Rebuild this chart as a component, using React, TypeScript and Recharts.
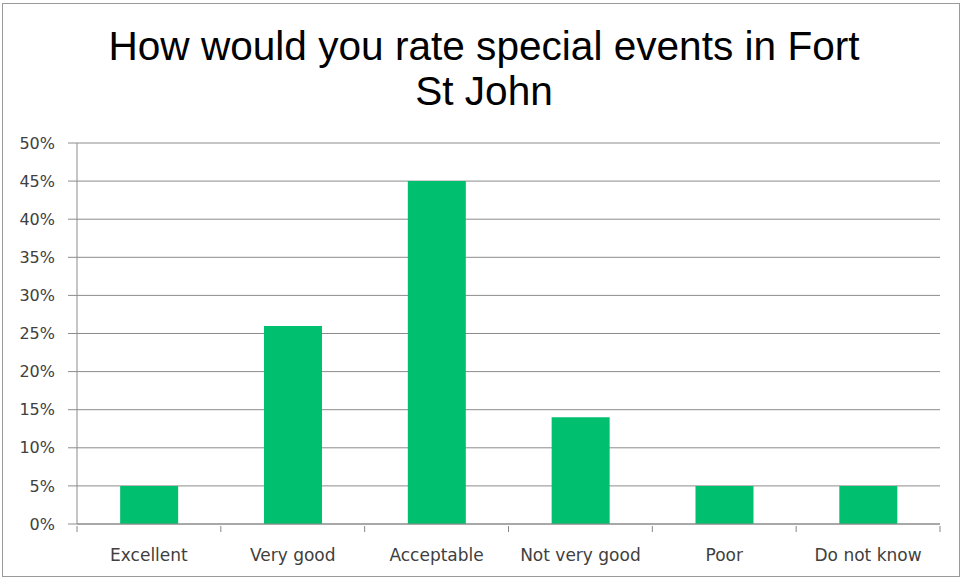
import { BarChart, Bar, XAxis, YAxis, CartesianGrid } from "recharts";

const categories = ["Excellent", "Very good", "Acceptable", "Not very good", "Poor", "Do not know"];
const shares = [5, 26, 45, 14, 5, 5];
const yTicks = [0, 5, 10, 15, 20, 25, 30, 35, 40, 45, 50];

const data = categories.map((name, i) => ({ name, value: shares[i] }));

const W = 963;
const H = 580;
const LEFT = 77;
const RIGHT = 23;
const STEP = (W - LEFT - RIGHT) / categories.length;

const CategoryTick = (props: any) => {
    const { x, y, payload, index } = props;
    return (
        <g>
            <line x1={x - STEP / 2} y1={y - 6} x2={x - STEP / 2} y2={y} stroke="#888" />
            {index === categories.length - 1 && (
                <line x1={x + STEP / 2} y1={y - 6} x2={x + STEP / 2} y2={y} stroke="#888" />
            )}
            <text x={x} y={y + 29} textAnchor="middle" fontSize={17} fill="#404040" fontFamily="'DejaVu Sans', sans-serif">
                {payload.value}
            </text>
        </g>
    );
};

export default function App() {
    return (
        <div style={{ position: "absolute", left: 0, top: 0, width: W, height: H, background: "#fff" }}>
            <div style={{
                position: "absolute", left: 2, top: 3, width: W - 5, height: H - 6,
                border: "1px solid #9a9a9a", boxSizing: "border-box"
            }} />
            <div style={{
                position: "absolute", left: 0, top: 24, width: 968, textAlign: "center",
                fontFamily: "'Liberation Sans', Arial, sans-serif", fontSize: 40.6, lineHeight: "45px", color: "#000"
            }}>
                How would you rate special events in Fort<br />St John
            </div>
            <BarChart
                width={W}
                height={H}
                data={data}
                margin={{ top: 143, right: RIGHT, bottom: 0, left: 0 }}
                barCategoryGap="30%"
                style={{ position: "absolute", left: 0, top: 0 }}
            >
                <CartesianGrid vertical={false} stroke="#8c8c8c" strokeDasharray="" />
                <XAxis
                    dataKey="name"
                    height={56}
                    axisLine={{ stroke: "#8c8c8c" }}
                    tickLine={false}
                    tick={<CategoryTick />}
                    interval={0}
                />
                <YAxis
                    width={LEFT}
                    domain={[0, 50]}
                    ticks={yTicks}
                    tickFormatter={(v: number) => `${v}%`}
                    axisLine={{ stroke: "#8c8c8c" }}
                    tickLine={{ stroke: "#8c8c8c" }}
                    tickSize={9}
                    tickMargin={13}
                    tick={{ fontSize: 16, fill: "#404040", fontFamily: "'DejaVu Sans', sans-serif" }}
                />
                <Bar dataKey="value" fill="#00BF6F" isAnimationActive={false} />
            </BarChart>
        </div>
    );
}
